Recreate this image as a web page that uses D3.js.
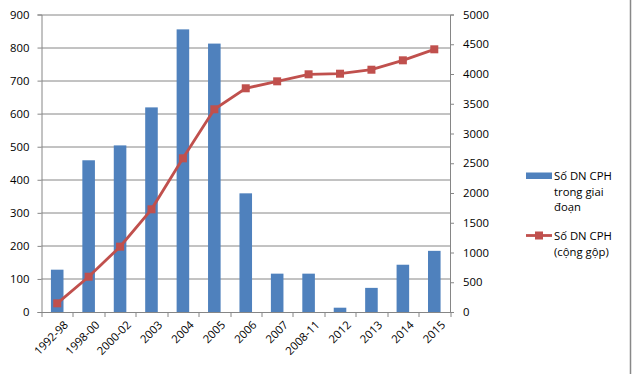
<!DOCTYPE html>
<html>
<head>
<meta charset="utf-8">
<script src="https://cdn.jsdelivr.net/npm/d3@7"></script>
<style>
  body { margin: 0; background: #fff; }
  text { font-family: "Open Sans", sans-serif; font-size: 11.3px; fill: #000; }
</style>
</head>
<body>
<script>
// data
var periods = ["1992-98", "1998-00", "2000-02", "2003", "2004", "2005", "2006",
               "2007", "2008-11", "2012", "2013", "2014", "2015"];
var perPeriod = [128, 459, 504, 619, 855, 812, 359, 116, 116, 13, 73, 143, 185];
var cumulative = [146, 593, 1098, 1726, 2583, 3407, 3760, 3877, 3995, 4005, 4072, 4230, 4415];
var leftTicks = [0, 100, 200, 300, 400, 500, 600, 700, 800, 900];
var rightTicks = [0, 500, 1000, 1500, 2000, 2500, 3000, 3500, 4000, 4500, 5000];
var barName = ["Số DN CPH", "trong giai", "đoạn"];
var lineName = ["Số DN CPH", "(cộng gộp)"];

var svgWidth = 632;
var svgHeight = 374;

var margin = { top: 14.5, left: 41.5, right: 182, bottom: 62 };
var plotW = svgWidth - margin.left - margin.right;
var plotH = svgHeight - margin.top - margin.bottom;

var svg = d3.select("body")
  .append("svg")
    .attr("width", svgWidth)
    .attr("height", svgHeight);

// outer frame edge on the right
svg.append("line")
  .attr("x1", 630.5).attr("x2", 630.5)
  .attr("y1", 0).attr("y2", svgHeight)
  .attr("stroke", "#888").attr("stroke-width", 1.5);

var g = svg.append("g")
  .attr("transform", "translate(" + margin.left + "," + margin.top + ")");

var xOuter = d3.scaleBand().domain(periods).range([0, plotW]);

var y = d3.scaleLinear().domain([0, 900]).range([plotH, 0]);
var y2 = d3.scaleLinear().domain([0, 5000]).range([plotH, 0]);

// gridlines
g.append("g")
  .selectAll("line")
  .data(leftTicks.slice(1))
  .enter()
  .append("line")
    .attr("x1", 0).attr("x2", plotW)
    .attr("y1", d => Math.round(y(d)) + 0.5)
    .attr("y2", d => Math.round(y(d)) + 0.5)
    .attr("stroke", "#868686");

// bars
var bw = xOuter.bandwidth() / 2.5;
g.append("g")
  .selectAll("rect")
  .data(periods)
  .enter()
  .append("rect")
    .attr("x", (d) => xOuter(d) + xOuter.bandwidth() / 2 - bw / 2)
    .attr("y", (d, i) => y(perPeriod[i]))
    .attr("width", bw)
    .attr("height", (d, i) => plotH - y(perPeriod[i]))
    .attr("fill", "#4F81BD");

// left axis
var leftAxis = g.append("g")
  .call(d3.axisLeft(y).tickValues(leftTicks).tickSize(4).tickPadding(8).tickFormat(d3.format("d")));
leftAxis.select(".domain").attr("stroke", "#868686");
leftAxis.selectAll(".tick line").attr("stroke", "#868686");
leftAxis.selectAll("text").style("font-family", "Open Sans").style("font-size", "11.3px");

// right axis
var rightAxis = g.append("g")
  .attr("transform", "translate(" + plotW + ",0)")
  .call(d3.axisRight(y2).tickValues(rightTicks).tickSize(4).tickPadding(9).tickFormat(d3.format("d")));
rightAxis.select(".domain").attr("stroke", "#868686");
rightAxis.selectAll(".tick line").attr("stroke", "#868686");
rightAxis.selectAll("text").style("font-family", "Open Sans").style("font-size", "11.3px");

// bottom axis with ticks between categories
var bottom = g.append("g").attr("transform", "translate(0," + plotH + ")");
bottom.append("line")
  .attr("x1", 0).attr("x2", plotW)
  .attr("y1", 0.5).attr("y2", 0.5)
  .attr("stroke", "#868686");
bottom.selectAll(".sep")
  .data(periods.concat(["end"]))
  .enter()
  .append("line")
    .attr("class", "sep")
    .attr("x1", (d, i) => Math.round(i * xOuter.step()) + 0.5)
    .attr("x2", (d, i) => Math.round(i * xOuter.step()) + 0.5)
    .attr("y1", 0).attr("y2", 5)
    .attr("stroke", "#868686");
bottom.selectAll(".lbl")
  .data(periods)
  .enter()
  .append("text")
    .attr("class", "lbl")
    .attr("text-anchor", "end")
    .attr("transform", d => "translate(" + (xOuter(d) + xOuter.bandwidth() / 2 + 6) + ",8) rotate(-45)")
    .attr("dy", "0.71em")
    .text(d => d);

// cumulative line
var cx = d => xOuter(d) + xOuter.bandwidth() / 2;
var line = d3.line()
  .x((d, i) => cx(periods[i]))
  .y(d => y2(d));

g.append("path")
  .datum(cumulative)
  .attr("d", line)
  .attr("fill", "none")
  .attr("stroke", "#C0504D")
  .attr("stroke-width", 2.8);

g.append("g")
  .selectAll("rect")
  .data(cumulative)
  .enter()
  .append("rect")
    .attr("x", (d, i) => cx(periods[i]) - 4)
    .attr("y", d => y2(d) - 4)
    .attr("width", 8)
    .attr("height", 8)
    .attr("fill", "#C0504D");

// legend
var legend = svg.append("g");
legend.append("rect")
  .attr("x", 526).attr("y", 172.5)
  .attr("width", 26).attr("height", 6.5)
  .attr("fill", "#4F81BD");
legend.append("text")
  .attr("x", 554).attr("y", 180)
  .selectAll("tspan")
  .data(barName)
  .enter()
  .append("tspan")
    .attr("x", 554)
    .attr("dy", (d, i) => i === 0 ? 0 : 15.5)
    .text(d => d);

legend.append("line")
  .attr("x1", 526).attr("x2", 552)
  .attr("y1", 235.5).attr("y2", 235.5)
  .attr("stroke", "#C0504D").attr("stroke-width", 2.8);
legend.append("rect")
  .attr("x", 535).attr("y", 231.5)
  .attr("width", 8).attr("height", 8)
  .attr("fill", "#C0504D");
legend.append("text")
  .attr("x", 554).attr("y", 240)
  .selectAll("tspan")
  .data(lineName)
  .enter()
  .append("tspan")
    .attr("x", 554)
    .attr("dy", (d, i) => i === 0 ? 0 : 15.5)
    .text(d => d);
</script>
</body>
</html>
